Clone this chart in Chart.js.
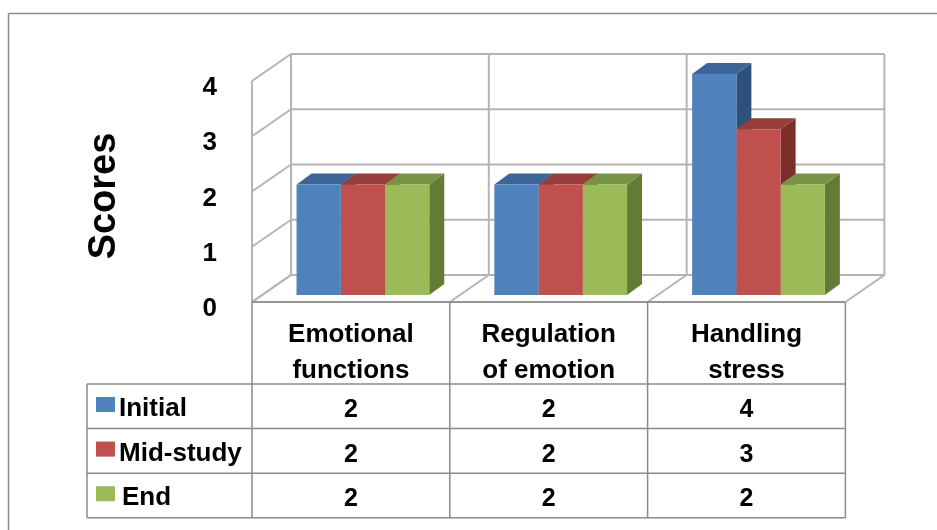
<!DOCTYPE html>
<html>
<head>
<meta charset="utf-8">
<title>Scores</title>
<script src="https://cdn.jsdelivr.net/npm/chart.js@4.4.1/dist/chart.umd.min.js"></script>
<style>
  html, body { margin: 0; padding: 0; background: #fff; }
  canvas { display: block; }
</style>
</head>
<body>
<canvas id="scoresChart" width="937" height="530"></canvas>
<script>
"use strict";

// ====
// Data
// ====
const categories = [
  ["Emotional", "functions"],
  ["Regulation", "of emotion"],
  ["Handling", "stress"],
];
const seriesNames = ["Initial", "Mid-study", "End"];
const initialScores = [2, 2, 4];
const midStudyScores = [2, 2, 3];
const endScores = [2, 2, 2];
const yTicks = [0, 1, 2, 3, 4];
const axisTitle = "Scores";

// ======
// Styles
// ======
const FRONT_COLORS = ["#4f81bd", "#c0504d", "#9bbb59"];
const TOP_COLORS = ["#3d6597", "#973e3c", "#779344"];
const SIDE_COLORS = ["#2f507a", "#7b2f2d", "#647b36"];
const WALL_LINE = "#b4b4b4";
const TABLE_LINE = "#8a8a8a";
const FONT = '"Liberation Sans", Arial, sans-serif';

// offsets of the planes relative to the bar front plane
const FRONT = { dx: -12, dy: 7 };
const BACK = { dx: 27, dy: -20 };
const BAR_DEPTH = { dx: 15, dy: 11 };

const line = (ctx, x1, y1, x2, y2) => {
  ctx.beginPath();
  ctx.moveTo(x1, y1);
  ctx.lineTo(x2, y2);
  ctx.stroke();
};

const poly = (ctx, pts, color) => {
  ctx.beginPath();
  ctx.moveTo(pts[0][0], pts[0][1]);
  for (let i = 1; i < pts.length; i++) ctx.lineTo(pts[i][0], pts[i][1]);
  ctx.closePath();
  ctx.fillStyle = color;
  ctx.fill();
};

// boundaries between categories, on the bar front plane
const categoryBounds = (chart) => {
  const area = chart.chartArea;
  const w = (area.right - area.left) / categories.length;
  const out = [];
  for (let k = 0; k <= categories.length; k++) out.push(area.left + k * w);
  return out;
};

// ==============
// 3D look plugin
// ==============
const excel3d = {
  id: "excel3d",
  beforeDatasetsDraw(chart) {
    const ctx = chart.ctx;
    const y = chart.scales.y;
    const bounds = categoryBounds(chart);
    const left = bounds[0];
    const right = bounds[bounds.length - 1];
    const y0 = y.getPixelForValue(yTicks[0]);
    const yMax = y.getPixelForValue(yTicks[yTicks.length - 1]);

    ctx.save();

    // outer frame
    ctx.strokeStyle = "#8c8c8c";
    ctx.lineWidth = 1.5;
    line(ctx, 8.5, 13.5, 937, 13.5);
    line(ctx, 8.5, 13.5, 8.5, 530);

    ctx.strokeStyle = WALL_LINE;
    ctx.lineWidth = 2;

    // back wall
    for (const v of yTicks) {
      const yy = y.getPixelForValue(v) + BACK.dy;
      line(ctx, left + BACK.dx, yy, right + BACK.dx, yy);
    }
    for (const b of bounds) {
      line(ctx, b + BACK.dx, y0 + BACK.dy, b + BACK.dx, yMax + BACK.dy);
    }

    // side wall
    line(ctx, left + FRONT.dx, y0 + FRONT.dy, left + FRONT.dx, yMax + FRONT.dy);
    for (const v of yTicks) {
      const yy = y.getPixelForValue(v);
      line(ctx, left + FRONT.dx, yy + FRONT.dy, left + BACK.dx, yy + BACK.dy);
    }

    // floor
    for (const b of bounds) {
      line(ctx, b + FRONT.dx, y0 + FRONT.dy, b + BACK.dx, y0 + BACK.dy);
    }
    line(ctx, left + FRONT.dx, y0 + FRONT.dy, right + FRONT.dx, y0 + FRONT.dy);

    // bar sides first, then tops; Chart.js draws the fronts afterwards
    const metas = chart.data.datasets.map((d, i) => chart.getDatasetMeta(i));
    metas.forEach((meta, i) => {
      for (const bar of meta.data) {
        const r = bar.x + bar.width / 2;
        poly(ctx, [
          [r, bar.y],
          [r + BAR_DEPTH.dx, bar.y - BAR_DEPTH.dy],
          [r + BAR_DEPTH.dx, bar.base - BAR_DEPTH.dy],
          [r, bar.base],
        ], SIDE_COLORS[i]);
      }
    });
    metas.forEach((meta, i) => {
      for (const bar of meta.data) {
        const l = bar.x - bar.width / 2;
        const r = bar.x + bar.width / 2;
        poly(ctx, [
          [l, bar.y],
          [r, bar.y],
          [r + BAR_DEPTH.dx, bar.y - BAR_DEPTH.dy],
          [l + BAR_DEPTH.dx, bar.y - BAR_DEPTH.dy],
        ], TOP_COLORS[i]);
      }
    });

    ctx.restore();
  },

  afterDraw(chart) {
    const ctx = chart.ctx;
    const y = chart.scales.y;
    const bounds = categoryBounds(chart).map((b) => b + FRONT.dx);
    const y0 = y.getPixelForValue(yTicks[0]);

    ctx.save();
    ctx.fillStyle = "#000";

    // value axis labels
    ctx.font = `bold 26px ${FONT}`;
    ctx.textAlign = "right";
    ctx.textBaseline = "middle";
    for (const v of yTicks) {
      ctx.fillText(String(v), 217, y.getPixelForValue(v) + 14);
    }

    // axis title
    ctx.save();
    ctx.translate(105, 196);
    ctx.rotate(-Math.PI / 2);
    ctx.font = `bold 38px ${FONT}`;
    ctx.textAlign = "center";
    ctx.fillText(axisTitle, 0, 0);
    ctx.restore();

    // data table
    const tableTop = y0 + FRONT.dy;
    const headerBottom = tableTop + 82;
    const rowH = 44.6;
    const tableLeft = 87;
    const tableRight = bounds[bounds.length - 1];
    const tableBottom = headerBottom + rowH * seriesNames.length;

    ctx.strokeStyle = TABLE_LINE;
    ctx.lineWidth = 1.5;
    line(ctx, bounds[0], tableTop, tableRight, tableTop);
    for (const b of bounds) line(ctx, b, tableTop, b, tableBottom);
    for (let r = 0; r <= seriesNames.length; r++) {
      const yy = headerBottom + r * rowH;
      line(ctx, tableLeft, yy, tableRight, yy);
    }
    line(ctx, tableLeft, headerBottom, tableLeft, tableBottom);

    // header
    ctx.font = `bold 26px ${FONT}`;
    ctx.textAlign = "center";
    ctx.textBaseline = "alphabetic";
    categories.forEach((lines, j) => {
      const cx = (bounds[j] + bounds[j + 1]) / 2;
      lines.forEach((t, k) => ctx.fillText(t, cx, tableTop + 40 + k * 36));
    });

    // rows
    const rows = [initialScores, midStudyScores, endScores];
    rows.forEach((values, r) => {
      const top = headerBottom + r * rowH;
      ctx.fillStyle = FRONT_COLORS[r];
      ctx.fillRect(96, top + 13, 19, 15);
      ctx.fillStyle = "#000";
      ctx.font = `bold 26px ${FONT}`;
      ctx.textAlign = "left";
      ctx.fillText(seriesNames[r], r === 2 ? 122 : 119, top + 32);
      ctx.font = `bold 25px ${FONT}`;
      ctx.textAlign = "center";
      values.forEach((v, j) => {
        ctx.fillText(String(v), (bounds[j] + bounds[j + 1]) / 2, top + 33);
      });
    });

    ctx.restore();
  },
};

// =====
// Chart
// =====
new Chart(document.getElementById("scoresChart"), {
  type: "bar",
  data: {
    labels: categories,
    datasets: [initialScores, midStudyScores, endScores].map((values, i) => ({
      label: seriesNames[i],
      data: values,
      backgroundColor: FRONT_COLORS[i],
      borderWidth: 0,
      categoryPercentage: 0.671,
      barPercentage: 1.0,
    })),
  },
  options: {
    responsive: false,
    devicePixelRatio: 1,
    animation: false,
    layout: { padding: { left: 264, right: 79.6, top: 74, bottom: 235 } },
    scales: {
      x: { display: false },
      y: { display: false, min: 0, max: 4 },
    },
    plugins: {
      legend: { display: false },
      tooltip: { enabled: false },
    },
  },
  plugins: [excel3d],
});
</script>
</body>
</html>
